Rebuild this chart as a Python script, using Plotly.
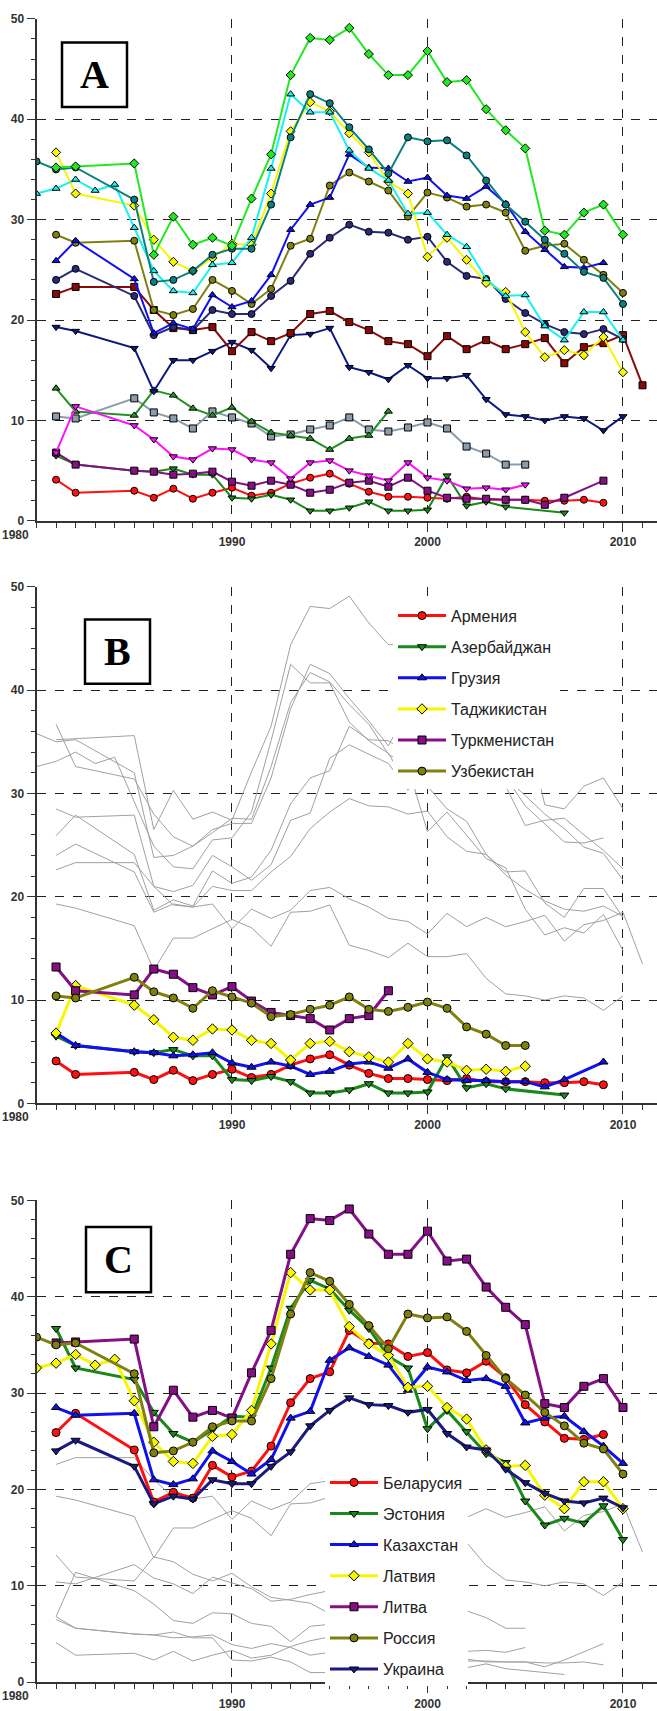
import plotly.graph_objects as go

W, H = 657, 1711

YEARS = [1980, 1981, 1982, 1983, 1984, 1985, 1986, 1987, 1988, 1989,
         1990, 1991, 1992, 1993, 1994, 1995, 1996, 1997, 1998, 1999,
         2000, 2001, 2002, 2003, 2004, 2005, 2006, 2007, 2008, 2009,
         2010, 2011]

LITVA = [None, 35.2, 35.3, None, None, 35.6, 26.5, 30.3, 27.5, 28.2, 27.4, 32.1, 36.5, 44.4, 48.1, 47.9,
         49.1, 46.5, 44.4, 44.4, 46.8, 43.7, 43.9, 41.0, 38.9, 37.1, 28.9, 28.5, 30.7, 31.5, 28.5, None]
ROSSIYA = [35.8, 35.0, 35.2, None, None, 32.0, 23.8, 24.0, 24.9, 26.5, 27.1, 27.1, 31.5, 38.2, 42.5, 41.6,
           39.2, 37.0, 34.6, 38.2, 37.8, 37.9, 36.4, 33.9, 31.5, 29.8, 28.0, 26.6, 24.8, 24.2, 21.6, None]
LATVIYA = [32.6, 33.1, 34.0, 32.9, 33.5, 29.2, 24.9, 22.9, 22.7, 25.5, 25.7, 28.2, 35.1, 42.5, 40.7, 40.7,
           36.9, 35.1, 33.9, 30.6, 30.7, 28.5, 27.3, 24.1, 22.4, 22.5, 19.4, 18.0, 20.8, 20.8, 18.0, None]
ESTONIYA = [None, 36.7, 32.6, None, None, 31.4, 28.0, 25.8, 24.9, 26.2, 27.6, 27.5, 32.6, 38.8, 41.7, 40.8,
            38.6, 36.7, 33.8, 32.6, 26.3, 28.2, 26.0, 23.7, 22.8, 18.8, 16.3, 17.0, 16.5, 18.3, 14.8, None]
BELARUS = [None, 25.9, 27.9, None, None, 24.1, 18.7, 19.7, 19.1, 22.5, 21.3, 21.9, 24.5, 29.0, 31.5, 32.2,
           36.5, 35.2, 35.1, 33.8, 34.2, 32.4, 32.1, 33.3, 31.6, 28.8, 27.0, 25.3, 25.2, 25.7, None, None]
KAZAKH = [None, 28.5, 27.7, None, None, 27.9, 21.0, 20.5, 21.1, 24.0, 22.9, 21.6, 23.1, 27.4, 28.1, 33.4,
          34.7, 33.8, 32.9, 30.3, 32.7, 32.2, 31.3, 31.5, 30.7, 26.9, 27.4, 27.6, 26.0, 24.5, 22.7, None]
UKRAINA = [None, 24.0, 25.1, None, None, 22.4, 18.5, 19.3, 19.0, 21.0, 20.6, 20.6, 22.4, 23.9, 26.6, 28.2,
           29.5, 28.8, 28.7, 28.0, 28.3, 25.8, 24.4, 24.1, 22.1, 20.7, 19.6, 18.8, 18.6, 19.1, 18.1, None]
KIRGIZIYA = [None, 22.6, 23.3, None, None, 23.3, 21.0, 19.2, 19.0, 19.3, 16.9, 18.8, 17.9, 18.7, 20.6, 20.9,
             19.8, 19.0, 17.9, 17.6, 16.4, 18.4, 17.1, 18.0, 17.1, 17.6, 18.2, 15.7, 17.3, 17.7, 18.5, 13.5]
MOLDAVIYA = [None, 19.3, 18.9, None, None, 17.2, 12.9, 16.0, 16.0, 16.9, 17.8, 17.0, 15.2, 18.5, 18.6, 19.2,
             15.3, 14.8, 14.1, 15.5, 14.2, 14.2, 14.5, 12.1, 10.6, 10.4, 10.0, 10.4, 10.2, 9.0, 10.4, None]
TURKMEN = [None, 13.2, 10.9, None, None, 10.5, 13.0, 12.5, 11.2, 10.5, 11.3, 9.9, 8.8, 8.5, 8.2, 7.1,
           8.2, 8.5, 10.9, None, None, None, None, None, None, None, None, None, None, None, None, None]
UZBEK = [None, 10.4, 10.2, None, None, 12.2, 10.8, 10.2, 9.2, 10.9, 10.3, 9.7, 8.4, 8.6, 9.1, 9.5,
         10.3, 9.1, 8.9, 9.3, 9.8, 9.2, 7.4, 6.7, 5.6, 5.6, None, None, None, None, None, None]
TADZHIK = [None, 6.8, 11.4, None, None, 9.5, 8.1, 6.4, 6.1, 7.2, 7.1, 6.1, 5.8, 4.2, 5.8, 6.0,
           5.0, 4.5, 4.0, 5.8, 4.3, 4.0, 3.2, 3.3, 3.1, 3.6, None, None, None, None, None, None]
GRUZIYA = [None, 6.8, 5.6, None, None, 5.0, 4.9, 4.6, 4.7, 4.9, 3.9, 3.5, 4.0, 3.6, 2.8, 3.1,
           3.8, 4.0, 3.4, 4.3, 3.0, 2.3, 2.2, 2.2, 2.1, 2.1, 1.6, 2.3, None, 4.0, None, None]
ARMENIYA = [None, 4.1, 2.8, None, None, 3.0, 2.3, 3.2, 2.2, 2.8, 3.3, 2.5, 2.8, 3.7, 4.3, 4.7,
            3.7, 2.9, 2.4, 2.4, 2.3, 2.2, 2.4, 2.1, 2.1, 2.1, 2.0, 2.0, 2.1, 1.8, None, None]
AZERB = [None, 6.5, 5.6, None, None, 5.0, 4.9, 5.2, 4.6, 4.6, 2.3, 2.2, 2.6, 2.1, 1.0, 1.0,
         1.3, 1.9, 1.0, 1.0, 1.1, 4.5, 1.5, 1.9, 1.4, None, None, 0.8, None, None, None, None]

SERIES = {
    "Литва": LITVA, "Россия": ROSSIYA, "Латвия": LATVIYA, "Эстония": ESTONIYA,
    "Беларусия": BELARUS, "Казахстан": KAZAKH, "Украина": UKRAINA,
    "Киргизия": KIRGIZIYA, "Молдавия": MOLDAVIYA, "Туркменистан": TURKMEN,
    "Узбекистан": UZBEK, "Таджикистан": TADZHIK, "Грузия": GRUZIYA,
    "Армения": ARMENIYA, "Азербайджан": AZERB,
}

# panel A: every republic in its own colour
STYLE_A = {
    "Литва": ("#22e822", "diamond"), "Россия": ("#0a8080", "circle"),
    "Латвия": ("#19f0f0", "triangle-up"), "Эстония": ("#f6f600", "diamond"),
    "Беларусия": ("#1010f0", "triangle-up"), "Казахстан": ("#808010", "circle"),
    "Украина": ("#2a2a78", "circle"), "Киргизия": ("#8a0a0a", "square"),
    "Молдавия": ("#0c1a80", "triangle-down"), "Туркменистан": ("#259025", "triangle-up"),
    "Узбекистан": ("#8c9cac", "square"), "Таджикистан": ("#ff10ff", "triangle-down"),
    "Грузия": ("#851085", "square"), "Армения": ("#ff1010", "circle"),
    "Азербайджан": ("#1a881a", "triangle-down"),
}
ORDER_A = ["Узбекистан", "Туркменистан", "Армения", "Азербайджан", "Грузия", "Таджикистан",
           "Молдавия", "Киргизия", "Украина", "Казахстан", "Беларусия", "Эстония",
           "Латвия", "Россия", "Литва"]

# panel B: southern republics highlighted
STYLE_B = {
    "Армения": ("#ff1010", "circle"), "Азербайджан": ("#1a881a", "triangle-down"),
    "Грузия": ("#1010f0", "triangle-up"), "Таджикистан": ("#f6f600", "diamond"),
    "Туркменистан": ("#851085", "square"), "Узбекистан": ("#808010", "circle"),
}
# panel C: european republics, Russia and Kazakhstan highlighted
STYLE_C = {
    "Беларусия": ("#ff1010", "circle"), "Эстония": ("#1a881a", "triangle-down"),
    "Казахстан": ("#1010f0", "triangle-up"), "Латвия": ("#f6f600", "diamond"),
    "Литва": ("#851085", "square"), "Россия": ("#808010", "circle"),
    "Украина": ("#1a1a80", "triangle-down"),
}

# vertical pixel extent (y=50 .. y=0) of each panel and its label box
PANELS = [
    dict(top=12.0, bottom=519.3, label="A", box=(62, 36, 127, 101)),
    dict(top=586.0, bottom=1108.0, label="B", box=(85, 619, 150, 684)),
    dict(top=1206.0, bottom=1693.0, label="C", box=(86, 1233, 151, 1299)),
]
X_LEFT_PX = 36.5
X_RANGE = [1980, 2011.74]

fig = go.Figure()


def add_line(name, color, symbol, i, width, msize, legend=None, gray=False):
    ax = "" if i == 1 else str(i)
    if gray:
        fig.add_trace(go.Scatter(
            x=YEARS, y=SERIES[name], mode="lines", connectgaps=True,
            line=dict(color="#a0a0a0", width=1), hoverinfo="skip",
            showlegend=False, xaxis="x" + ax, yaxis="y" + ax))
        return
    fig.add_trace(go.Scatter(
        x=YEARS, y=SERIES[name], mode="lines+markers", connectgaps=True, name=name,
        line=dict(color=color, width=width),
        marker=dict(symbol=symbol, size=msize, color=color, line=dict(color="black", width=1)),
        showlegend=legend is not None, legend=legend, legendgroup=name if legend else None,
        xaxis="x" + ax, yaxis="y" + ax))


for name in ORDER_A:
    c, s = STYLE_A[name]
    add_line(name, c, s, 1, 2, 7)

for name in SERIES:
    if name not in STYLE_B:
        add_line(name, None, None, 2, 1, 0, gray=True)
for name, (c, s) in STYLE_B.items():
    add_line(name, c, s, 2, 3, 8, legend="legend")

for name in SERIES:
    if name not in STYLE_C:
        add_line(name, None, None, 3, 1, 0, gray=True)
for name, (c, s) in STYLE_C.items():
    add_line(name, c, s, 3, 3, 8, legend="legend2")

tickfont = dict(family="Liberation Sans, Arial, sans-serif", size=12, color="#333", weight="bold")
shapes, annotations = [], []
for i, p in enumerate(PANELS, start=1):
    ax = "" if i == 1 else str(i)
    ydom = [1 - p["bottom"] / H, 1 - p["top"] / H]
    fig.layout["xaxis" + ax] = dict(
        domain=[X_LEFT_PX / W, 1], range=X_RANGE, anchor="y" + ax,
        tickvals=[1990, 2000, 2010], ticks="outside", ticklen=9, tickwidth=1, tickcolor="#333",
        minor=dict(dtick=1, tick0=1980, ticks="outside", ticklen=5, tickcolor="#333", showgrid=False),
        showgrid=True, griddash="dash", gridcolor="#222", gridwidth=1,
        showline=True, linecolor="#333", linewidth=2, zeroline=False,
        tickfont=tickfont, fixedrange=True)
    fig.layout["yaxis" + ax] = dict(
        domain=ydom, range=[0, 50], anchor="x" + ax, dtick=10,
        ticks="outside", ticklen=8, tickwidth=1, tickcolor="#333",
        minor=dict(dtick=2, ticks="outside", ticklen=4, tickcolor="#333", showgrid=False),
        showgrid=True, griddash="dash", gridcolor="#222", gridwidth=1,
        showline=True, linecolor="#333", linewidth=2, zeroline=False,
        tickfont=tickfont, fixedrange=True)
    annotations.append(dict(
        xref="x" + ax + " domain", yref="y" + ax + " domain", x=0, y=0,
        text="1980", showarrow=False, xanchor="right", yanchor="top",
        xshift=-6, yshift=-5, font=tickfont))
    x0, y0, x1, y1 = p["box"]
    shapes.append(dict(type="rect", xref="paper", yref="paper",
                       x0=x0 / W, x1=x1 / W, y0=1 - y1 / H, y1=1 - y0 / H,
                       fillcolor="white", line=dict(color="black", width=2.5), layer="above"))
    annotations.append(dict(
        xref="paper", yref="paper", x=(x0 + x1) / 2 / W, y=1 - (y0 + y1) / 2 / H,
        text="<b>%s</b>" % p["label"], showarrow=False, xanchor="center", yanchor="middle",
        font=dict(family="Liberation Serif, Times New Roman, serif", size=40, color="black")))

legfont = dict(family="Liberation Sans, Arial, sans-serif", size=16, color="#222")
fig.update_layout(
    width=W, height=H, margin=dict(l=0, r=0, t=0, b=0),
    paper_bgcolor="white", plot_bgcolor="white",
    shapes=shapes, annotations=annotations, showlegend=True,
    legend=dict(x=393 / W, y=1 - 598 / H, xanchor="left", yanchor="top", bgcolor="white",
                font=legfont, tracegroupgap=7.3, itemwidth=48, traceorder="grouped"),
    legend2=dict(x=325 / W, y=1 - 1474 / H, xanchor="left", yanchor="top", bgcolor="white",
                 font=legfont, tracegroupgap=7.3, itemwidth=48, traceorder="grouped"),
)

fig.write_html("out.html")
